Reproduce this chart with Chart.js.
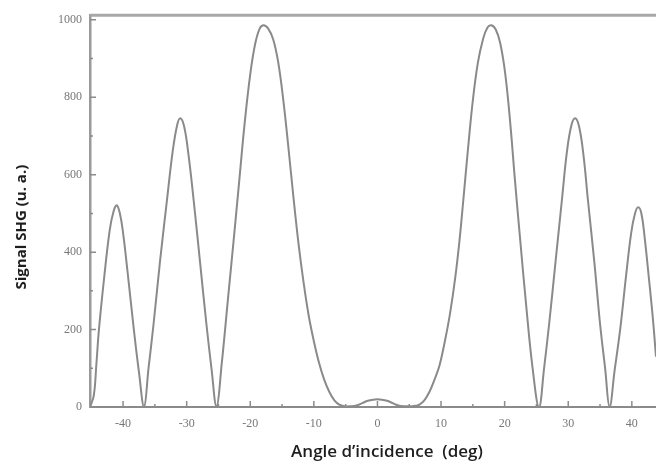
<!DOCTYPE html>
<html>
<head>
<meta charset="utf-8">
<script src="https://cdn.jsdelivr.net/npm/chart.js@4.4.1/dist/chart.umd.min.js"></script>
<style>
  html, body { margin: 0; padding: 0; background: #fff; overflow: hidden; }
</style>
</head>
<body>
<canvas id="shgChart" width="656" height="465"></canvas>
<script>
// Angle of incidence (deg) and SHG signal (a.u.)
const angles = [
  -45.2, -44.6, -44.2, -43.8, -43.0, -42.1, -41.5, -41.0, -40.5, -40.0, -39.3, -38.3, -37.5, -36.7,
  -36.0, -35.2, -34.2, -33.1, -32.2, -31.5, -31.0, -30.4, -29.7, -28.9, -27.9, -26.9, -26.1, -25.3,
  -24.5, -23.5, -22.5, -21.7, -20.9, -20.0, -19.2, -18.5, -17.9, -17.2, -16.4, -15.6, -14.8,
  -14.0, -13.2, -12.4, -11.6, -10.8, -10.0, -9.2, -8.4, -7.6, -6.8, -6.0, -5.2,
  -4.2, -3.3, -2.4, -1.5, -0.7, 0, 0.7, 1.5, 2.4, 3.3, 4.3, 5.4,
  6.0, 6.6, 7.4, 8.2, 9.0, 9.8, 10.6, 11.4, 12.2, 12.9, 13.5, 14.2, 15.0, 15.8, 16.6, 17.3, 17.9,
  18.6, 19.3, 20.1, 20.9, 21.6, 22.4, 23.4, 24.4, 25.4,
  26.2, 27.0, 28.0, 29.0, 29.8, 30.5, 31.1, 31.7, 32.4, 33.1, 34.1, 35.0, 35.8, 36.5,
  37.3, 38.2, 39.1, 39.9, 40.5, 41.0, 41.5, 42.0, 42.7, 43.3, 43.8
];
const signal = [
  0, 30, 110, 199, 330, 457, 505, 521, 500, 450, 350, 199, 90, 0,
  100, 215, 375, 534, 660, 728, 746, 725, 650, 534, 375, 215, 100, 0,
  110, 280, 450, 590, 730, 860, 940, 978, 986, 978, 950, 890, 792,
  670, 540, 420, 320, 235, 170, 115, 72, 40, 18, 6, 2,
  2, 4, 10, 16, 19, 20, 19, 16, 10, 4, 2, 2,
  3, 6, 18, 40, 72, 110, 170, 240, 330, 430, 534, 660, 792, 890, 950, 980, 986,
  975, 940, 860, 730, 590, 440, 260, 100, 0,
  100, 215, 375, 534, 660, 728, 746, 725, 650, 534, 375, 215, 100, 0,
  95, 205, 340, 450, 500, 516, 500, 440, 330, 230, 130
];

const xTicks = [-40, -30, -20, -10, 0, 10, 20, 30, 40];
const xMinor = [-35, -25, -15, -5, 5, 15, 25, 35];
const yTicks = [0, 200, 400, 600, 800, 1000];
const yMinor = [100, 300, 500, 700, 900];

const xTitle = "Angle d’incidence  (deg)";
const yTitle = "Signal SHG (u. a.)";

// inward tick marks, top border and axis titles
const frame = {
  id: "frame",
  afterDraw(chart) {
    const { ctx, chartArea: a, scales: { x, y } } = chart;
    ctx.save();

    ctx.strokeStyle = "#a8a8a8";
    ctx.lineWidth = 3;
    ctx.beginPath();
    ctx.moveTo(a.left, a.top);
    ctx.lineTo(a.right, a.top);
    ctx.stroke();

    ctx.strokeStyle = "#8c8c8c";
    ctx.lineWidth = 1.5;
    ctx.beginPath();
    xTicks.concat(xMinor).forEach((v) => {
      const px = x.getPixelForValue(v);
      const len = xTicks.includes(v) ? 6 : 3;
      ctx.moveTo(px, a.bottom);
      ctx.lineTo(px, a.bottom - len);
    });
    yTicks.concat(yMinor).forEach((v) => {
      const py = y.getPixelForValue(v);
      const len = yTicks.includes(v) ? 6 : 3;
      ctx.moveTo(a.left, py);
      ctx.lineTo(a.left + len, py);
    });
    ctx.stroke();

    ctx.fillStyle = "#1e1e1e";
    ctx.textAlign = "center";
    ctx.textBaseline = "middle";
    ctx.font = "600 17px 'Open Sans'";
    ctx.fillText(xTitle, (a.left + a.right) / 2 + 14, 452);

    ctx.translate(22, (a.top + a.bottom) / 2 + 16);
    ctx.rotate(-Math.PI / 2);
    ctx.font = "bold 15px 'Open Sans'";
    ctx.fillText(yTitle, 0, 0);
    ctx.restore();
  },
};

new Chart(document.getElementById("shgChart"), {
  type: "line",
  data: {
    datasets: [
      {
        data: angles.map((a, i) => ({ x: a, y: signal[i] })),
        borderColor: "#8a8a8a",
        borderWidth: 2,
        pointRadius: 0,
        fill: false,
        tension: 0.4,
      },
    ],
  },
  options: {
    responsive: false,
    animation: false,
    layout: { padding: { top: 15, right: 0, left: 0, bottom: 0 } },
    plugins: {
      legend: { display: false },
      tooltip: { enabled: false },
    },
    scales: {
      x: {
        type: "linear",
        min: -45.2,
        max: 43.8,
        afterBuildTicks: (axis) => { axis.ticks = xTicks.map((v) => ({ value: v })); },
        afterFit: (axis) => { axis.height = 58; },
        grid: { display: false, drawTicks: false },
        border: { color: "#8a8a8a", width: 2 },
        ticks: {
          padding: 10,
          color: "#777",
          font: { family: "'Liberation Serif'", size: 12 },
          maxRotation: 0,
          callback: (v) => String(v),
        },
      },
      y: {
        min: 0,
        max: 1012,
        afterBuildTicks: (axis) => { axis.ticks = yTicks.map((v) => ({ value: v })); },
        afterFit: (axis) => { axis.width = 90; },
        grid: { display: false, drawTicks: false },
        border: { color: "#9a9a9a", width: 2.5 },
        ticks: {
          padding: 8,
          color: "#777",
          font: { family: "'Liberation Serif'", size: 12 },
          callback: (v) => String(v),
        },
      },
    },
  },
  plugins: [frame],
});
</script>
</body>
</html>
